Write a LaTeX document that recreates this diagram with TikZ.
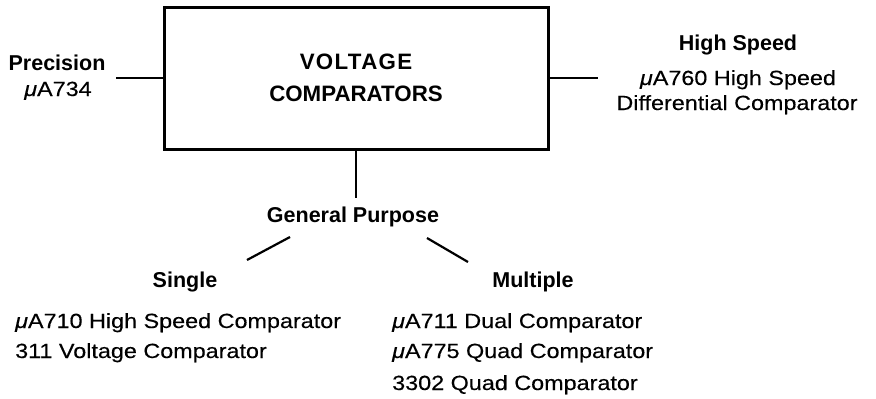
\documentclass[tikz,border=0pt]{standalone}
\usepackage{fontspec}
\setmainfont{Liberation Sans}
\newfontfamily\regf[FakeStretch=1.14,FakeBold=0.3]{Liberation Sans}
\newfontfamily\bldf{Liberation Sans Bold}
\newfontfamily\bldlsf[LetterSpace=6]{Liberation Sans Bold}
\newcommand\mymu{{\itshape μ}}
\begin{document}
\begin{tikzpicture}[x=1pt,y=-1pt,
  reg/.style={font=\regf\fontsize{20.5}{31}\selectfont, inner sep=0pt},
  bld/.style={font=\bldf\fontsize{21.5}{26}\selectfont, inner sep=0pt},
  conn/.style={line width=2.2pt},
  mainbox/.style={draw, line width=3pt, minimum width=384pt, minimum height=142pt,
    align=center, inner sep=0pt, font=\bldf\fontsize{22.3}{32}\selectfont}]
\useasboundingbox (0,0) rectangle (876,399);
\node[mainbox] (box) at (356,78) {{\bldlsf VOLTAGE}\\COMPARATORS};
% left
\node[bld, anchor=base] (prec) at (57,70) {Precision};
\node[reg, anchor=base] (p734) at (58,96) {\mymu A734};
\coordinate (precL) at (116,78);
\draw[conn] (precL) -- (box.west);
% right
\node[bld, anchor=base] (hs) at (738,50) {High Speed};
\node[reg, anchor=base] (hs760) at (738,85) {\mymu A760 High Speed};
\node[reg, anchor=base] (hsdiff) at (737,110) {Differential Comparator};
\coordinate (hsL) at (598,78);
\draw[conn] (box.east) -- (hsL);
% down
\node[bld, anchor=base] (gp) at (353,222) {General Purpose};
\coordinate (gpT) at (356,198);
\draw[conn] (box.south) -- (gpT);
\coordinate (dlA) at (290,237);
\coordinate (dlB) at (247,260);
\coordinate (drA) at (427,238);
\coordinate (drB) at (468,262);
\draw[conn] (dlA) -- (dlB);
\draw[conn] (drA) -- (drB);
\node[bld, anchor=base] (single) at (185,287) {Single};
\node[bld, anchor=base] (multiple) at (533,287) {Multiple};
\node[reg, anchor=base west] (s1) at (15,328) {\mymu A710 High Speed Comparator};
\node[reg, anchor=base west] (s2) at (15,358) {311 Voltage Comparator};
\node[reg, anchor=base west] (m1) at (392,328) {\mymu A711 Dual Comparator};
\node[reg, anchor=base west] (m2) at (392,358) {\mymu A775 Quad Comparator};
\node[reg, anchor=base west] (m3) at (392,390) {3302 Quad Comparator};
\end{tikzpicture}
\end{document}
